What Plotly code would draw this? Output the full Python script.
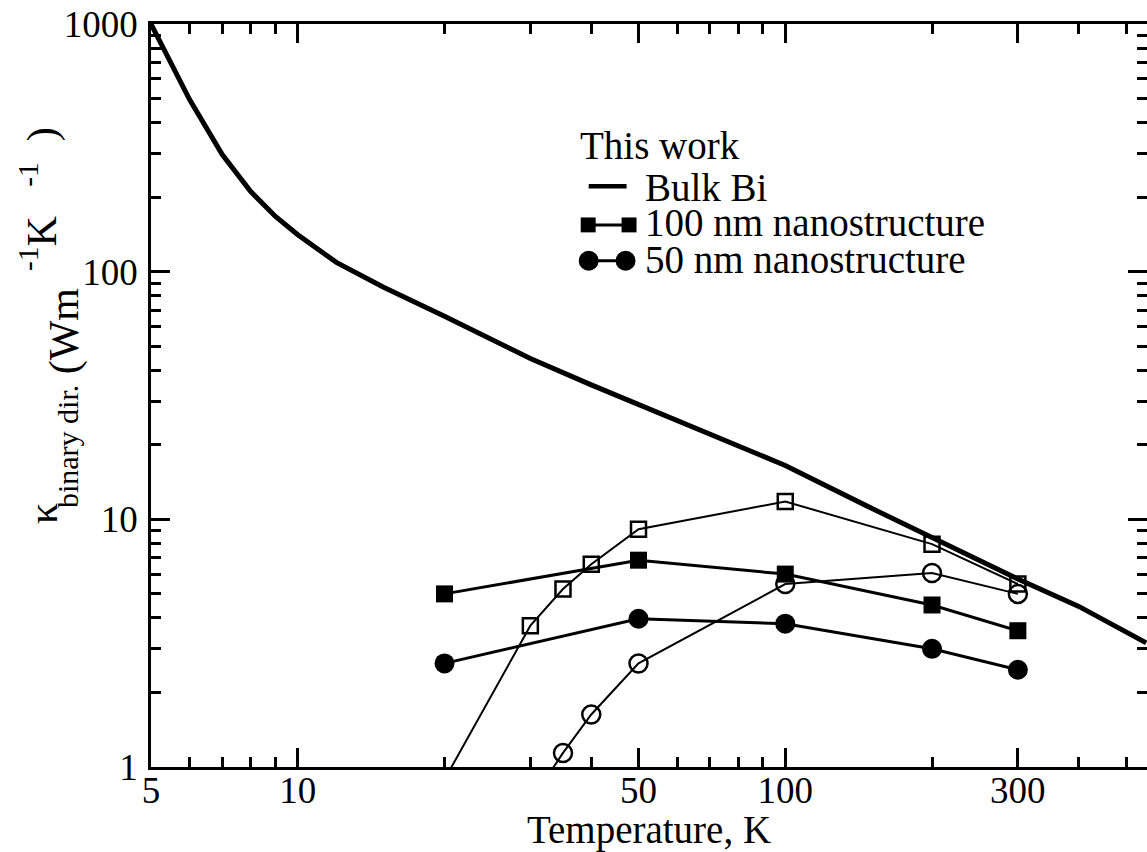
import plotly.graph_objects as go

# ---------------- data ----------------
bulk_T = [5, 5.5, 6, 7, 8, 9, 10, 12, 15, 20, 30, 40, 50, 70, 100, 150, 200, 300, 400, 550]
bulk_k = [1000, 700, 495, 297, 211, 167, 141, 109, 86.5, 66, 44.6, 34.9, 29.1, 22.1, 16.5, 11.1, 8.4, 5.74, 4.45, 3.17]

nm100_T = [20, 50, 100, 200, 300]
nm100_k = [5.0, 6.84, 6.01, 4.51, 3.55]

nm50_T = [20, 50, 100, 200, 300]
nm50_k = [2.62, 3.97, 3.79, 3.0, 2.47]

nm100_open_T = [20, 30, 35, 40, 50, 100, 200, 300]
nm100_open_k = [0.89, 3.72, 5.23, 6.59, 9.12, 11.8, 7.94, 5.48]

nm50_open_T = [30, 35, 40, 50, 100, 200, 300]
nm50_open_k = [0.72, 1.14, 1.63, 2.62, 5.48, 6.07, 5.0]

x_tick_vals = [5, 10, 50, 100, 300]
x_tick_text = ["5", "10", "50", "100", "300"]
x_minor_vals = [6, 7, 8, 9, 20, 30, 40, 60, 70, 80, 90, 200, 400, 500]
y_tick_vals = [1, 10, 100, 1000]
y_tick_text = ["1", "10", "100", "1000"]
y_minor_vals = [m * d for d in (1, 10, 100) for m in range(2, 10)]

legend_title = "This work"
legend_names = ["Bulk Bi", "100 nm nanostructure", "50 nm nanostructure"]

NB = "\u00a0"
# y-axis title pieces (kappa, lowered subscript run, superscript run)
ytitle_parts = ["κ",
                "<span style='font-size:30px'>binary dir.</span> (Wm",
                "<sup>" + NB + "-1</sup>K<sup>" + NB * 4 + "-1</sup>" + NB * 2 + ")"]

# ---------------- layout geometry ----------------
W, H = 1152, 852
L, R, T, B = 151, 1150, 24, 771
FONT = "Liberation Serif, Times New Roman, serif"
FS = 37
FS_TXT = 39
FS_YT = 42


def px_x(p):
    return (p - L) / (R - L)


def px_y(p):
    return (B - p) / (B - T)


fig = go.Figure()

fig.add_trace(go.Scatter(x=nm100_open_T, y=nm100_open_k, mode="lines+markers",
                         line=dict(color="black", width=2),
                         marker=dict(symbol="square-open", size=15, color="black",
                                     line=dict(width=2.5, color="black")),
                         showlegend=False))
fig.add_trace(go.Scatter(x=nm50_open_T, y=nm50_open_k, mode="lines+markers",
                         line=dict(color="black", width=2),
                         marker=dict(symbol="circle-open", size=18, color="black",
                                     line=dict(width=2.5, color="black")),
                         showlegend=False))
fig.add_trace(go.Scatter(x=nm100_T, y=nm100_k, mode="lines+markers", name=legend_names[1],
                         line=dict(color="black", width=3),
                         marker=dict(symbol="square", size=17, color="black"),
                         showlegend=False))
fig.add_trace(go.Scatter(x=nm50_T, y=nm50_k, mode="lines+markers", name=legend_names[2],
                         line=dict(color="black", width=3),
                         marker=dict(symbol="circle", size=20, color="black"),
                         showlegend=False))
fig.add_trace(go.Scatter(x=bulk_T, y=bulk_k, mode="lines", name=legend_names[0],
                         line=dict(color="black", width=5),
                         showlegend=False))

axis_common = dict(
    type="log", showgrid=False, zeroline=False,
    showline=True, linecolor="black", linewidth=2.5, mirror="ticks",
    ticks="inside", ticklen=19, tickwidth=2.5, tickcolor="black",
    tickfont=dict(family=FONT, size=FS, color="black"),
)

fig.update_xaxes(**axis_common, range=[0.69897, 2.742],
                 tickmode="array", tickvals=x_tick_vals, ticktext=x_tick_text,
                 ticklabelstandoff=-11,
                 minor=dict(tickmode="array", tickvals=x_minor_vals, ticks="inside",
                            ticklen=10, tickwidth=2.5, tickcolor="black", showgrid=False),
                 title=dict(text="Temperature, K", font=dict(family=FONT, size=FS_TXT, color="black"),
                            standoff=12))
fig.update_yaxes(**axis_common, range=[0, 3],
                 tickmode="array", tickvals=y_tick_vals, ticktext=y_tick_text,
                 ticklabelstandoff=3,
                 minor=dict(tickmode="array", tickvals=y_minor_vals, ticks="inside",
                            ticklen=10, tickwidth=2.5, tickcolor="black", showgrid=False))

annotations = []
# (right edge of rotated box = baseline + descent, bottom = start of text)
for txt, xr, yb in zip(ytitle_parts, [67, 89, 67], [528, 512, 281]):
    annotations.append(dict(text=txt, textangle=-90, xref="paper", yref="paper",
                            x=px_x(xr), y=px_y(yb), xanchor="right", yanchor="bottom",
                            showarrow=False, borderpad=0,
                            font=dict(family=FONT, size=FS_YT, color="black")))

annotations.append(dict(text=legend_title, xref="paper", yref="paper", x=px_x(579), y=px_y(146),
                        xanchor="left", yanchor="middle", showarrow=False,
                        font=dict(family=FONT, size=FS_TXT, color="black")))
for name, yc in zip(legend_names, [188, 224, 261]):
    annotations.append(dict(text=name, xref="paper", yref="paper", x=px_x(644), y=px_y(yc),
                            xanchor="left", yanchor="middle", showarrow=False,
                            font=dict(family=FONT, size=FS_TXT, color="black")))

shapes = [
    dict(type="line", xref="paper", yref="paper", x0=px_x(590), x1=px_x(628), y0=px_y(187), y1=px_y(187),
         line=dict(color="black", width=4.5)),
    dict(type="line", xref="paper", yref="paper", x0=px_x(589), x1=px_x(631), y0=px_y(226), y1=px_y(226),
         line=dict(color="black", width=3)),
    dict(type="rect", xref="paper", yref="paper", x0=px_x(582), x1=px_x(597), y0=px_y(233.5), y1=px_y(218.5),
         fillcolor="black", line=dict(width=0)),
    dict(type="rect", xref="paper", yref="paper", x0=px_x(623), x1=px_x(638), y0=px_y(233.5), y1=px_y(218.5),
         fillcolor="black", line=dict(width=0)),
    dict(type="line", xref="paper", yref="paper", x0=px_x(590), x1=px_x(627), y0=px_y(262), y1=px_y(262),
         line=dict(color="black", width=3)),
    dict(type="circle", xref="paper", yref="paper", x0=px_x(580), x1=px_x(600), y0=px_y(272), y1=px_y(252),
         fillcolor="black", line=dict(width=0)),
    dict(type="circle", xref="paper", yref="paper", x0=px_x(617), x1=px_x(637), y0=px_y(272), y1=px_y(252),
         fillcolor="black", line=dict(width=0)),
]

fig.update_layout(
    width=W, height=H,
    margin=dict(l=L, r=W - R, t=T, b=H - B),
    paper_bgcolor="white", plot_bgcolor="white",
    font=dict(family=FONT, size=FS, color="black"),
    showlegend=False,
    annotations=annotations,
    shapes=shapes,
)

fig.write_html("out.html", config={"displayModeBar": False},
               post_script="document.body.style.margin='0px';document.body.style.overflow='hidden';")
